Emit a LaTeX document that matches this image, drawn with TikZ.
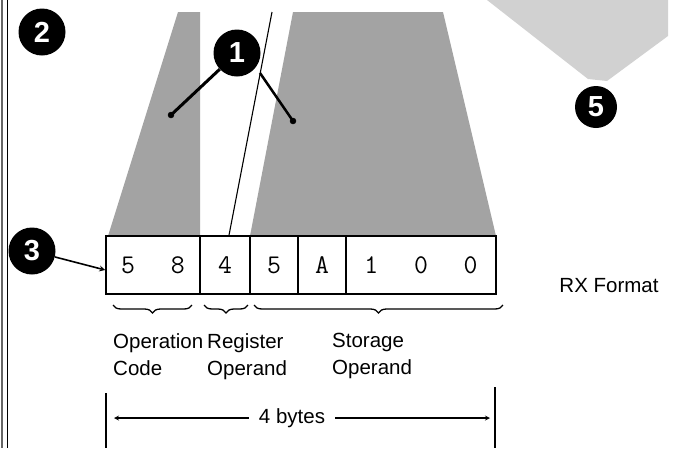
\documentclass[tikz,border=0pt]{standalone}
\usepackage{fontspec}
\setmainfont{Liberation Sans}
\usetikzlibrary{decorations.pathreplacing}

\begin{document}
\begin{tikzpicture}[x=1pt, y=-1pt,
        num/.style={circle, fill=black, text=white, inner sep=0pt, minimum size=47pt,
            font=\fontsize{29}{29}\selectfont\bfseries},
        cell/.style={draw, line width=1.6pt, minimum height=58pt, inner sep=0pt,
            font=\fontsize{27}{27}\selectfont\ttfamily},
        lbl/.style={font=\fontsize{20.5}{27}\selectfont, align=left, anchor=north west, inner sep=0pt},
        shade/.style={fill=black!36},
        brc/.style={decorate, decoration={brace, mirror, amplitude=8pt}, line width=1.3pt}]
        \useasboundingbox (0,0) rectangle (678,448);

        % shaded fields
        \fill[shade] (178,12) -- (200,12) -- (200,236) -- (108,236) -- cycle;
        \fill[shade] (293,12) -- (443,12) -- (496,236) -- (250,236) -- cycle;
        \fill[black!18] (487,0) -- (588,79) -- (607,81) -- (668,36) -- (668,0) -- cycle;

        % left edge of the page
        \draw[black!60, line width=2pt] (1.5,0) -- (1.5,448);
        \draw[line width=1.2pt] (7.5,0) -- (7.5,448);

        % the instruction
        \node[cell, minimum width=94pt] (op) at (153,265) {5\hspace{35.8pt}8};
        \node[cell, minimum width=50pt] (reg) at (225,265) {4};
        \node[cell, minimum width=48pt] (b1) at (274,265) {5};
        \node[cell, minimum width=48pt] (b2) at (322,265) {A};
        \node[cell, minimum width=150pt] (b3) at (421,265) {1\hspace{35.8pt}0\hspace{35.8pt}0};

        \draw[brc] (113,305) -- (192,305);
        \draw[brc] (204,305) -- (248,305);
        \draw[brc] (254,305) -- (503,305);

        \node[lbl] (opl) at (113,333) {Operation\\Code};
        \node[lbl] (regl) at (207,333) {Register\\Operand};
        \node[lbl] (stl) at (332,333) {Storage\\Operand};
        \node[font=\fontsize{20.5}{24}\selectfont] (rx) at (609,286) {RX Format};

        % length
        \draw[line width=1.5pt] (106,393) -- (106,448);
        \draw[line width=1.5pt] (495,387) -- (495,448);
        \coordinate (lend) at (114,418);
        \coordinate (rend) at (490,418);
        \node[font=\fontsize{20.5}{24}\selectfont, inner xsep=10pt] (bytes) at (292,418) {4 bytes};
        \draw[-stealth, line width=1.2pt] (bytes.west) -- (lend);
        \draw[-stealth, line width=1.2pt] (bytes.east) -- (rend);

        % callouts
        \node[num] (n2) at (42,32) {2};
        \node[num] (n1) at (237,53) {1};
        \node[num] (n3) at (32,251) {3};
        \node[num, minimum size=42pt] (n5) at (596,107) {5};

        \coordinate (ptop) at (272,12);
        \draw[line width=1.1pt] (ptop) -- ([xshift=4pt]reg.north);

        \coordinate (d1) at (171,115);
        \coordinate (d2s) at (260,73);
        \coordinate (d2) at (293,121);
        \draw[line width=3pt] (n1) -- (d1);
        \draw[line width=2.5pt] (d2s) -- (d2);
        \filldraw[black] (d1) circle (3pt);
        \filldraw[black] (d2) circle (3pt);

        \draw[-stealth, line width=1.6pt] (n3) -- ([yshift=-5pt]op.west);
    \end{tikzpicture}
\end{document}
